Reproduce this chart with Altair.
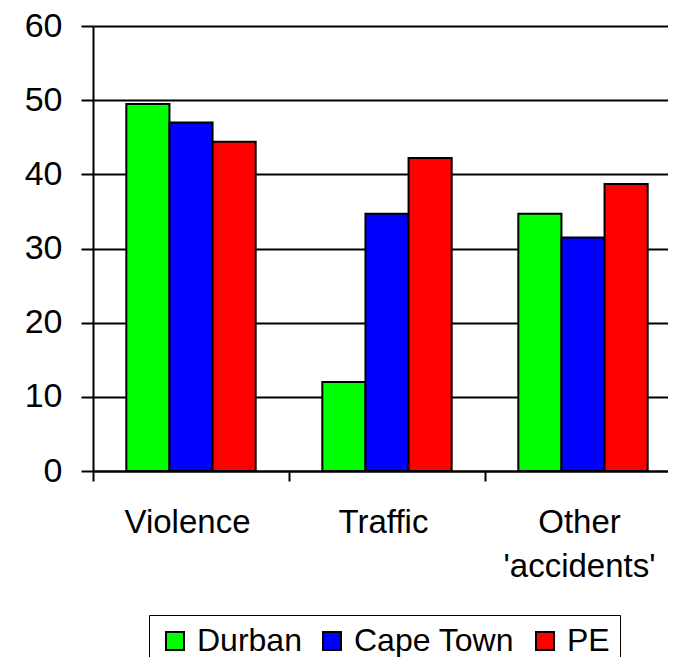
import altair as alt
import pandas as pd

categories = ["Violence", "Traffic", "Other 'accidents'"]
cities = ["Durban", "Cape Town", "PE"]
durban = [49.5, 12.0, 34.7]
cape_town = [47.0, 34.7, 31.5]
pe = [44.4, 42.2, 38.7]
colors = ["#00ff00", "#0000ff", "#ff0000"]
y_ticks = [0, 10, 20, 30, 40, 50, 60]

rows = []
for series_name, vals in zip(cities, [durban, cape_town, pe]):
    for cat, v in zip(categories, vals):
        rows.append({"category": cat, "city": series_name, "value": v})
df = pd.DataFrame(rows)

FONT = "Liberation Sans"

chart = alt.Chart(df).mark_bar(stroke="black", strokeWidth=2).encode(
    x=alt.X("category:N", sort=categories,
            scale=alt.Scale(paddingInner=0, paddingOuter=0, rangeMax=588),
            axis=alt.Axis(title=None, labelAngle=0, labelFontSize=33, labelFont=FONT,
                          labelColor="black", labelPadding=25, labelLineHeight=44,
                          labelLimit=400, labelOffset=-4,
                          labelExpr="split(datum.label, ' ')",
                          tickBand="extent", tickSize=10, tickColor="black", tickWidth=2,
                          domainColor="black", domainWidth=2, grid=False)),
    xOffset=alt.XOffset("city:N", sort=cities,
                        scale=alt.Scale(domain=cities, paddingInner=0, paddingOuter=0.773)),
    y=alt.Y("value:Q", scale=alt.Scale(domain=[0, 60], nice=False),
            axis=alt.Axis(title=None, values=y_ticks, labelFontSize=34, labelFont=FONT,
                          labelColor="black", labelPadding=19, tickSize=12,
                          tickColor="black", tickWidth=2, domainColor="black",
                          domainWidth=2, grid=True, gridColor="black", gridWidth=2,
                          gridOpacity=1)),
    color=alt.Color("city:N", sort=cities,
                    scale=alt.Scale(domain=cities, range=colors),
                    legend=alt.Legend(title=None, orient="none", legendX=56, legendY=589,
                                      direction="horizontal", strokeColor="black",
                                      fillColor="white", padding=10, labelFontSize=32,
                                      labelFont=FONT, labelColor="black", labelLimit=400,
                                      symbolType="square", symbolSize=324,
                                      symbolStrokeColor="black", symbolStrokeWidth=2,
                                      symbolOpacity=1, labelOffset=6, columnPadding=14)),
).properties(
    width=575, height=445,
    autosize=alt.AutoSizeParams(type="none"),
    padding={"left": 85, "top": 18, "right": 0, "bottom": 186},
).configure_view(stroke=None).configure_legend(strokeWidth=2).configure(background="white")

chart.save("out.html", embed_options={"renderer": "svg", "actions": False})
